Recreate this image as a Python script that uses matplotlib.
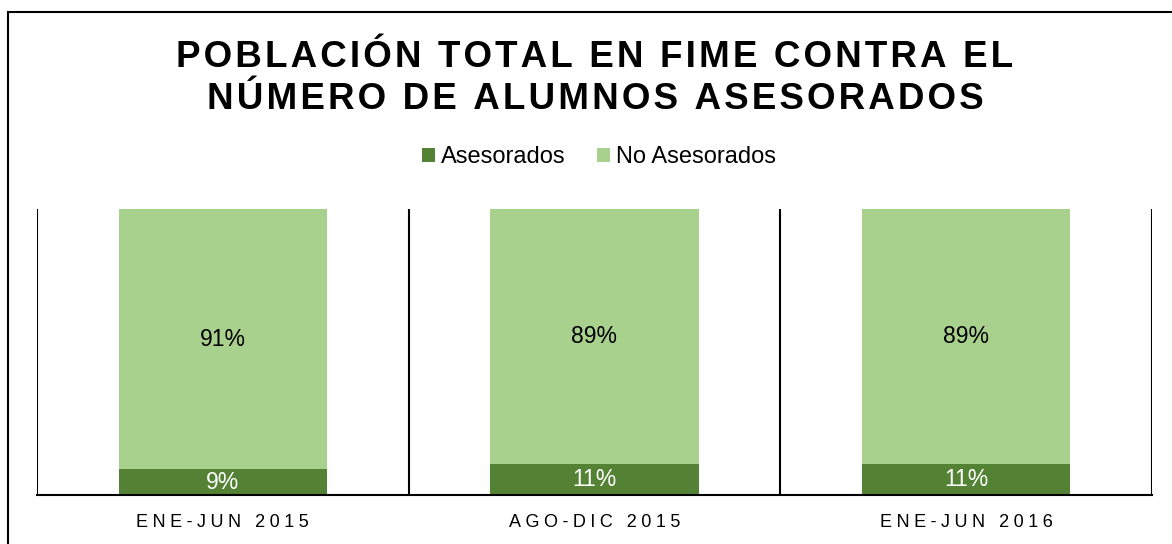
import matplotlib
matplotlib.use('Agg')
import matplotlib.pyplot as plt
from matplotlib.patches import Rectangle

periodos = ['ENE-JUN 2015', 'AGO-DIC 2015', 'ENE-JUN 2016']
asesorados = [9, 11, 11]
no_asesorados = [91, 89, 89]
titulo = ['POBLACIÓN TOTAL EN FIME CONTRA EL', 'NÚMERO DE ALUMNOS ASESORADOS']

OSCURO = '#548235'
CLARO = '#A9D18E'


def espaciar(s, sep):
    # matplotlib no tiene espaciado entre letras: se meten espacios finos
    return sep.join(s)


plt.rcParams['font.family'] = ['Liberation Sans', 'DejaVu Sans']
fig = plt.figure(figsize=(11.72, 5.44), dpi=100)

# marco exterior del grafico
fig.patches.append(Rectangle((8 / 1172, -0.01), 1.2, (544 - 12) / 544 + 0.01,
                             transform=fig.transFigure, fill=False,
                             edgecolor='black', linewidth=1.5))

ax = fig.add_axes([37 / 1172, 49 / 544, (1152 - 37) / 1172, (495 - 209) / 544])
x = range(len(periodos))
ax.bar(x, asesorados, width=0.56, color=OSCURO, label='Asesorados')
ax.bar(x, no_asesorados, width=0.56, bottom=asesorados, color=CLARO,
       label='No Asesorados')

for i in x:
    ax.text(i, asesorados[i] / 2, '%d%%' % asesorados[i], ha='center',
            va='center', color='white', fontsize=16.5)
    ax.text(i, asesorados[i] + no_asesorados[i] / 2, '%d%%' % no_asesorados[i],
            ha='center', va='center', color='black', fontsize=16.5)

ax.set_xlim(-0.5, 2.5)
ax.set_ylim(0, 100)
for b in [-0.5, 0.5, 1.5, 2.5]:
    ax.axvline(b, color='black', linewidth=1.5)
for s in ['top', 'left', 'right']:
    ax.spines[s].set_visible(False)
ax.spines['bottom'].set_linewidth(1.5)
ax.set_yticks([])
ax.set_xticks(list(x))
ax.set_xticklabels([espaciar(p, '\u2005') for p in periodos], fontsize=13)
ax.tick_params(axis='x', length=0, pad=14)

cx = 595 / 1172
fig.text(cx, 1 - 67 / 544, espaciar(titulo[0], '\u200a'), ha='center',
         va='baseline', fontsize=26.5, fontweight='bold')
fig.text(cx, 1 - 109 / 544, espaciar(titulo[1], '\u200a'), ha='center',
         va='baseline', fontsize=26.5, fontweight='bold')

fig.legend(loc='center', bbox_to_anchor=(599 / 1172, 1 - 157 / 544), ncol=2,
           frameon=False, fontsize=17, handlelength=0.55, handleheight=0.55,
           handletextpad=0.25, columnspacing=1.3)

fig.savefig('out.png', dpi=100)
